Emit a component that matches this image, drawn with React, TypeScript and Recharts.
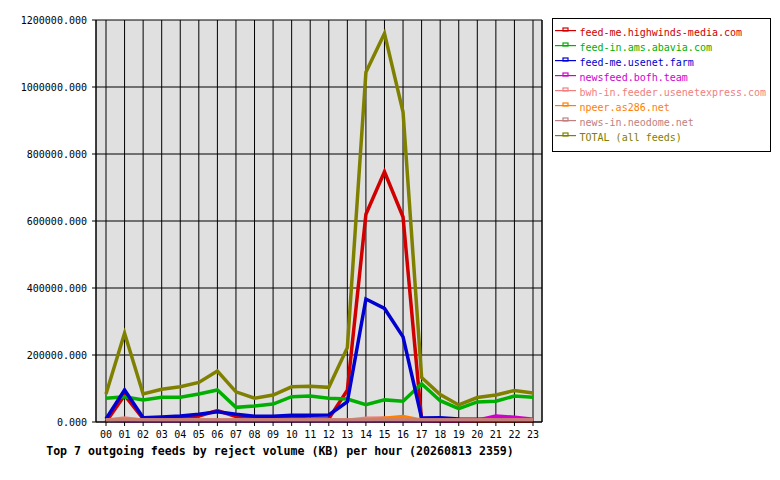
import React from 'react';
import { LineChart, Line, XAxis, YAxis, CartesianGrid } from 'recharts';

const hours = ['00','01','02','03','04','05','06','07','08','09','10','11','12','13','14','15','16','17','18','19','20','21','22','23'];

const highwinds = [0, 80000, 10000, 12000, 13000, 18000, 34000, 16000, 9000, 9000, 11000, 9000, 10000, 95000, 620000, 747000, 612000, 5000, 3000, 3000, 3000, 3000, 3000, 3000];
const abavia = [70700, 75500, 65700, 73600, 73600, 83600, 95500, 43800, 47800, 53700, 75500, 77600, 70700, 68700, 52000, 66000, 62000, 114000, 63500, 40000, 60000, 62000, 77600, 73600];
const usenetFarm = [9000, 95500, 12800, 15000, 18000, 23000, 30700, 23000, 17000, 17000, 20000, 20000, 21000, 60600, 367000, 339000, 254000, 12000, 13000, 9000, 8000, 8000, 8000, 7000];
const bofh = [5000, 4000, 4000, 4000, 4000, 4000, 4000, 4000, 4000, 4000, 4000, 4000, 4000, 4000, 4000, 4000, 4000, 4000, 4000, 4000, 5000, 18000, 14000, 8000];
const usenetexpress = [5000, 12000, 5000, 5000, 5000, 5000, 5000, 5000, 5000, 5000, 5000, 5000, 5000, 5000, 11000, 12000, 9000, 5000, 5000, 5000, 5000, 5000, 5000, 5000];
const as286 = [5000, 9000, 6000, 5000, 5000, 5000, 5000, 5000, 5000, 5000, 5000, 5000, 5000, 5000, 5000, 11000, 16000, 5000, 5000, 5000, 5000, 5000, 5000, 5000];
const neodome = [6000, 6000, 6000, 6000, 6000, 6000, 6000, 6000, 6000, 6000, 6000, 6000, 6000, 6000, 6000, 6000, 6000, 6000, 6000, 6000, 6000, 6000, 6000, 6000];
const total = [83600, 265000, 83600, 97600, 105000, 118000, 152000, 90000, 71000, 80600, 105000, 107000, 103500, 222000, 1044000, 1160000, 925000, 133000, 82000, 51000, 73000, 80600, 94000, 86500];

const yTicks = [0, 200000, 400000, 600000, 800000, 1000000, 1200000];

const seriesNames = [
  'feed-me.highwinds-media.com',
  'feed-in.ams.abavia.com',
  'feed-me.usenet.farm',
  'newsfeed.bofh.team',
  'bwh-in.feeder.usenetexpress.com',
  'npeer.as286.net',
  'news-in.neodome.net',
  'TOTAL (all feeds)',
];
const seriesColors = ['#d00000', '#00b000', '#0000d0', '#d000d0', '#f08080', '#ff8000', '#c08080', '#808000'];
const seriesValues = [highwinds, abavia, usenetFarm, bofh, usenetexpress, as286, neodome, total];

const title = 'Top 7 outgoing feeds by reject volume (KB) per hour (20260813 2359)';

const data = hours.map((h, i) => {
  const row: Record<string, any> = { hour: h };
  seriesValues.forEach((vals, k) => {
    row['s' + k] = vals[i];
  });
  return row;
});

const MONO = '"DejaVu Sans Mono", "Liberation Mono", monospace';

const TitleLabel = (props: any) => {
  return (
    <text x={280} y={455} textAnchor="middle" fontFamily={MONO} fontSize={11.6} fontWeight="bold" fill="#000">
      {title}
    </text>
  );
};

export default function App() {
  return (
    <div style={{ position: 'absolute', left: 0, top: 0, width: 780, height: 480, background: '#fff' }}>
      <LineChart width={780} height={480} data={data} margin={{ top: 20, right: 237, bottom: 0, left: 0 }}>
        <CartesianGrid stroke="#000" strokeWidth={1} fill="#e0e0e0" fillOpacity={1} />
        <XAxis
          dataKey="hour"
          interval={0}
          height={58}
          padding={{ left: 10, right: 9 }}
          axisLine={{ stroke: '#000' }}
          tickLine={{ stroke: '#000' }}
          tickSize={4}
          tickMargin={5}
          tick={{ fontFamily: MONO, fontSize: 10, fill: '#000' }}
          label={<TitleLabel />}
        />
        <YAxis
          width={96}
          domain={[0, 1200000]}
          ticks={yTicks}
          interval={0}
          tickFormatter={(v: number) => v.toFixed(3)}
          axisLine={{ stroke: '#000' }}
          tickLine={{ stroke: '#000' }}
          tickSize={4}
          tickMargin={5}
          tick={{ fontFamily: MONO, fontSize: 10, fill: '#000' }}
        />
        <YAxis
          yAxisId="r"
          orientation="right"
          width={1}
          domain={[0, 1200000]}
          tick={false}
          tickLine={false}
          axisLine={{ stroke: '#000' }}
        />
        {seriesNames.map((name, k) => (
          <Line
            key={name}
            type="linear"
            dataKey={'s' + k}
            name={name}
            stroke={seriesColors[k]}
            strokeWidth={3.5}
            dot={false}
            activeDot={false}
            isAnimationActive={false}
          />
        ))}
      </LineChart>
      <div
        style={{
          position: 'absolute',
          left: 552,
          top: 18,
          width: 219,
          height: 134,
          boxSizing: 'border-box',
          border: '1px solid #000',
          background: '#fff',
        }}
      >
        {seriesNames.map((name, k) => (
          <div key={name} style={{ position: 'absolute', left: 2, top: 6.3 + k * 15, height: 15, width: 214 }}>
            <svg width={22} height={15} style={{ position: 'absolute', left: 0, top: 0 }}>
              <rect x={0} y={5} width={21} height={1.2} fill={seriesColors[k]} />
              <rect x={8} y={3} width={5} height={3} fill="none" stroke={seriesColors[k]} strokeWidth={1.2} />
            </svg>
            <span
              style={{
                position: 'absolute',
                left: 24.5,
                top: 0,
                fontFamily: MONO,
                fontSize: 10,
                lineHeight: '15px',
                color: seriesColors[k],
                whiteSpace: 'nowrap',
              }}
            >
              {name}
            </span>
          </div>
        ))}
      </div>
    </div>
  );
}
